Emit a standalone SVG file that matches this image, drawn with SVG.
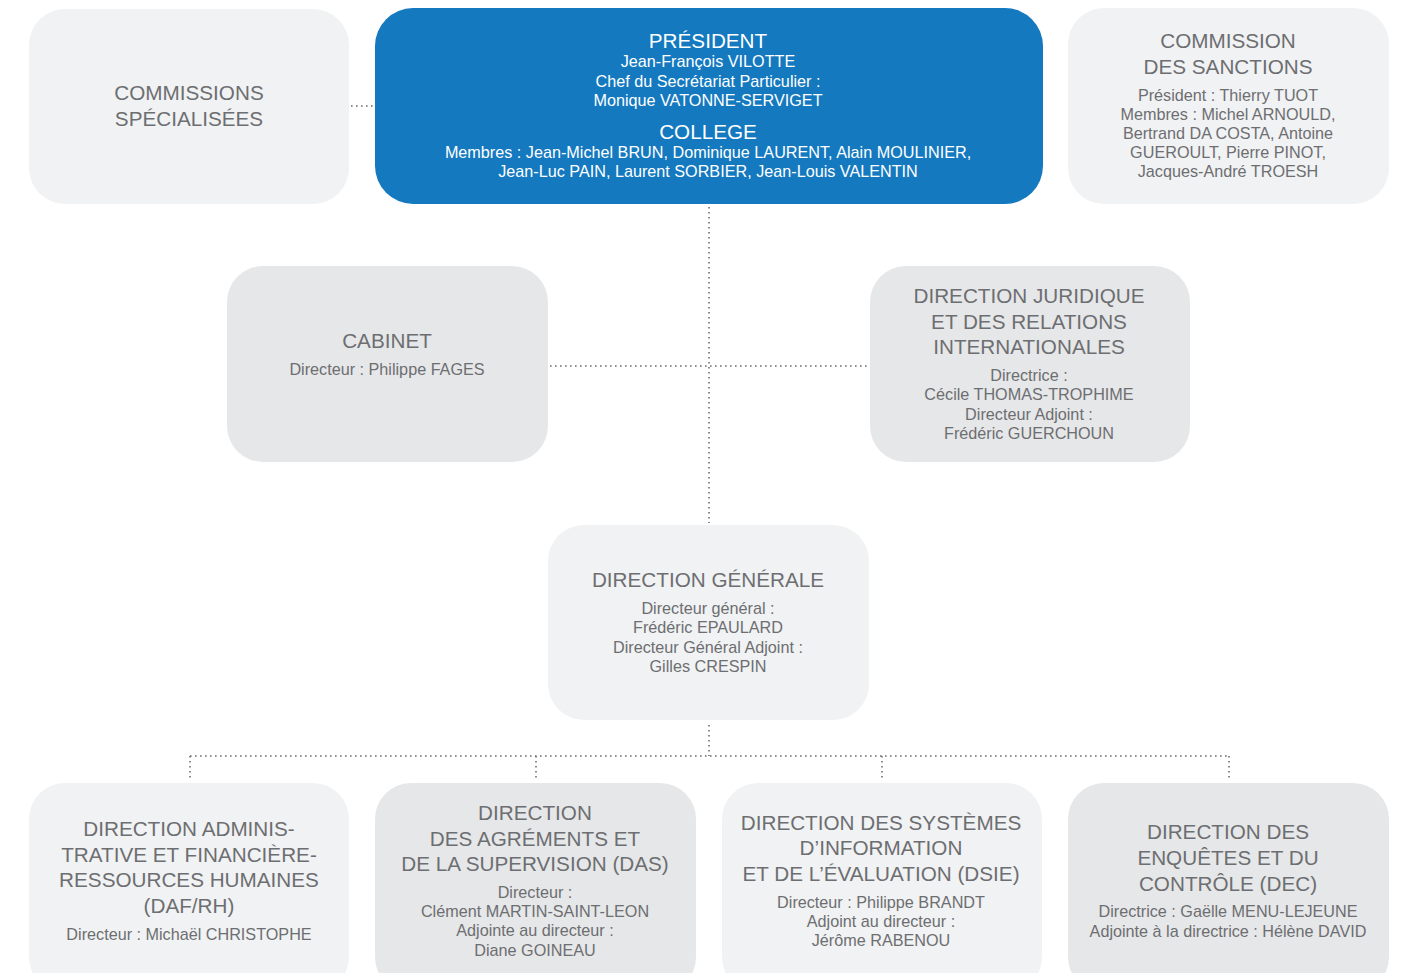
<svg xmlns="http://www.w3.org/2000/svg" width="1404" height="973" viewBox="0 0 1404 973">
<style>
.l{fill:#f1f2f3}
.d{fill:#e6e7e8}
.b{fill:#1479bf}
text{font-family:"Liberation Sans",Arial,sans-serif;text-anchor:middle;fill:#6d6e71}
.t{font-size:20.7px}
.s{font-size:16.2px}
.w{fill:#ffffff}
.c{fill:none;stroke:#6d6e71;stroke-width:1.6;stroke-dasharray:1.6 3.4}
</style>
<rect width="1404" height="973" fill="#ffffff"/>
<g id="connectors">
<line class="c" x1="351" y1="106" x2="374" y2="106"/>
<line class="c" x1="709" y1="207" x2="709" y2="523"/>
<line class="c" x1="550" y1="366" x2="868" y2="366"/>
<line class="c" x1="709" y1="725" x2="709" y2="756"/>
<line class="c" x1="190" y1="756" x2="1230" y2="756"/>
<line class="c" x1="190" y1="756" x2="190" y2="781"/>
<line class="c" x1="536" y1="756" x2="536" y2="781"/>
<line class="c" x1="882" y1="756" x2="882" y2="781"/>
<line class="c" x1="1229" y1="756" x2="1229" y2="781"/>
</g>
<g id="commissions-specialisees">
<rect class="l" x="29" y="9" width="320" height="195" rx="36"/>
<text class="t" x="189" y="100">COMMISSIONS</text>
<text class="t" x="189" y="126">SPÉCIALISÉES</text>
</g>
<g id="president">
<rect class="b" x="375" y="8" width="668" height="196" rx="38"/>
<text class="t w" x="708" y="48">PRÉSIDENT</text>
<text class="s w" x="708" y="67">Jean-François VILOTTE</text>
<text class="s w" x="708" y="87">Chef du Secrétariat Particulier :</text>
<text class="s w" x="708" y="106">Monique VATONNE-SERVIGET</text>
<text class="t w" x="708" y="139">COLLEGE</text>
<text class="s w" x="708" y="158">Membres : Jean-Michel BRUN, Dominique LAURENT, Alain MOULINIER,</text>
<text class="s w" x="708" y="177">Jean-Luc PAIN, Laurent SORBIER, Jean-Louis VALENTIN</text>
</g>
<g id="commission-sanctions">
<rect class="l" x="1068" y="8" width="321" height="196" rx="36"/>
<text class="t" x="1228" y="48">COMMISSION</text>
<text class="t" x="1228" y="74">DES SANCTIONS</text>
<text class="s" x="1228" y="101">Président : Thierry TUOT</text>
<text class="s" x="1228" y="120">Membres : Michel ARNOULD,</text>
<text class="s" x="1228" y="139">Bertrand DA COSTA, Antoine</text>
<text class="s" x="1228" y="158">GUEROULT, Pierre PINOT,</text>
<text class="s" x="1228" y="177">Jacques-André TROESH</text>
</g>
<g id="cabinet">
<rect class="d" x="227" y="266" width="321" height="196" rx="36"/>
<text class="t" x="387" y="348">CABINET</text>
<text class="s" x="387" y="375">Directeur : Philippe FAGES</text>
</g>
<g id="direction-juridique">
<rect class="d" x="870" y="266" width="320" height="196" rx="36"/>
<text class="t" x="1029" y="303">DIRECTION JURIDIQUE</text>
<text class="t" x="1029" y="329">ET DES RELATIONS</text>
<text class="t" x="1029" y="354">INTERNATIONALES</text>
<text class="s" x="1029" y="381">Directrice :</text>
<text class="s" x="1029" y="400">Cécile THOMAS-TROPHIME</text>
<text class="s" x="1029" y="420">Directeur Adjoint :</text>
<text class="s" x="1029" y="439">Frédéric GUERCHOUN</text>
</g>
<g id="direction-generale">
<rect class="l" x="548" y="525" width="321" height="195" rx="36"/>
<text class="t" x="708" y="587">DIRECTION GÉNÉRALE</text>
<text class="s" x="708" y="614">Directeur général :</text>
<text class="s" x="708" y="633">Frédéric EPAULARD</text>
<text class="s" x="708" y="653">Directeur Général Adjoint :</text>
<text class="s" x="708" y="672">Gilles CRESPIN</text>
</g>
<g id="daf-rh">
<rect class="l" x="29" y="783" width="320" height="210" rx="36"/>
<text class="t" x="189" y="836">DIRECTION ADMINIS-</text>
<text class="t" x="189" y="862">TRATIVE ET FINANCIÈRE-</text>
<text class="t" x="189" y="887">RESSOURCES HUMAINES</text>
<text class="t" x="189" y="913">(DAF/RH)</text>
<text class="s" x="189" y="940">Directeur : Michaël CHRISTOPHE</text>
</g>
<g id="das">
<rect class="d" x="375" y="783" width="321" height="210" rx="36"/>
<text class="t" x="535" y="820">DIRECTION</text>
<text class="t" x="535" y="846">DES AGRÉMENTS ET</text>
<text class="t" x="535" y="871">DE LA SUPERVISION (DAS)</text>
<text class="s" x="535" y="898">Directeur :</text>
<text class="s" x="535" y="917">Clément MARTIN-SAINT-LEON</text>
<text class="s" x="535" y="936">Adjointe au directeur :</text>
<text class="s" x="535" y="956">Diane GOINEAU</text>
</g>
<g id="dsie">
<rect class="l" x="722" y="783" width="320" height="210" rx="36"/>
<text class="t" x="881" y="830">DIRECTION DES SYSTÈMES</text>
<text class="t" x="881" y="855">D’INFORMATION</text>
<text class="t" x="881" y="881">ET DE L’ÉVALUATION (DSIE)</text>
<text class="s" x="881" y="908">Directeur : Philippe BRANDT</text>
<text class="s" x="881" y="927">Adjoint au directeur :</text>
<text class="s" x="881" y="946">Jérôme RABENOU</text>
</g>
<g id="dec">
<rect class="d" x="1068" y="783" width="321" height="210" rx="36"/>
<text class="t" x="1228" y="839">DIRECTION DES</text>
<text class="t" x="1228" y="865">ENQUÊTES ET DU</text>
<text class="t" x="1228" y="891">CONTRÔLE (DEC)</text>
<text class="s" x="1228" y="917">Directrice : Gaëlle MENU-LEJEUNE</text>
<text class="s" x="1228" y="937">Adjointe à la directrice : Hélène DAVID</text>
</g>
</svg>
